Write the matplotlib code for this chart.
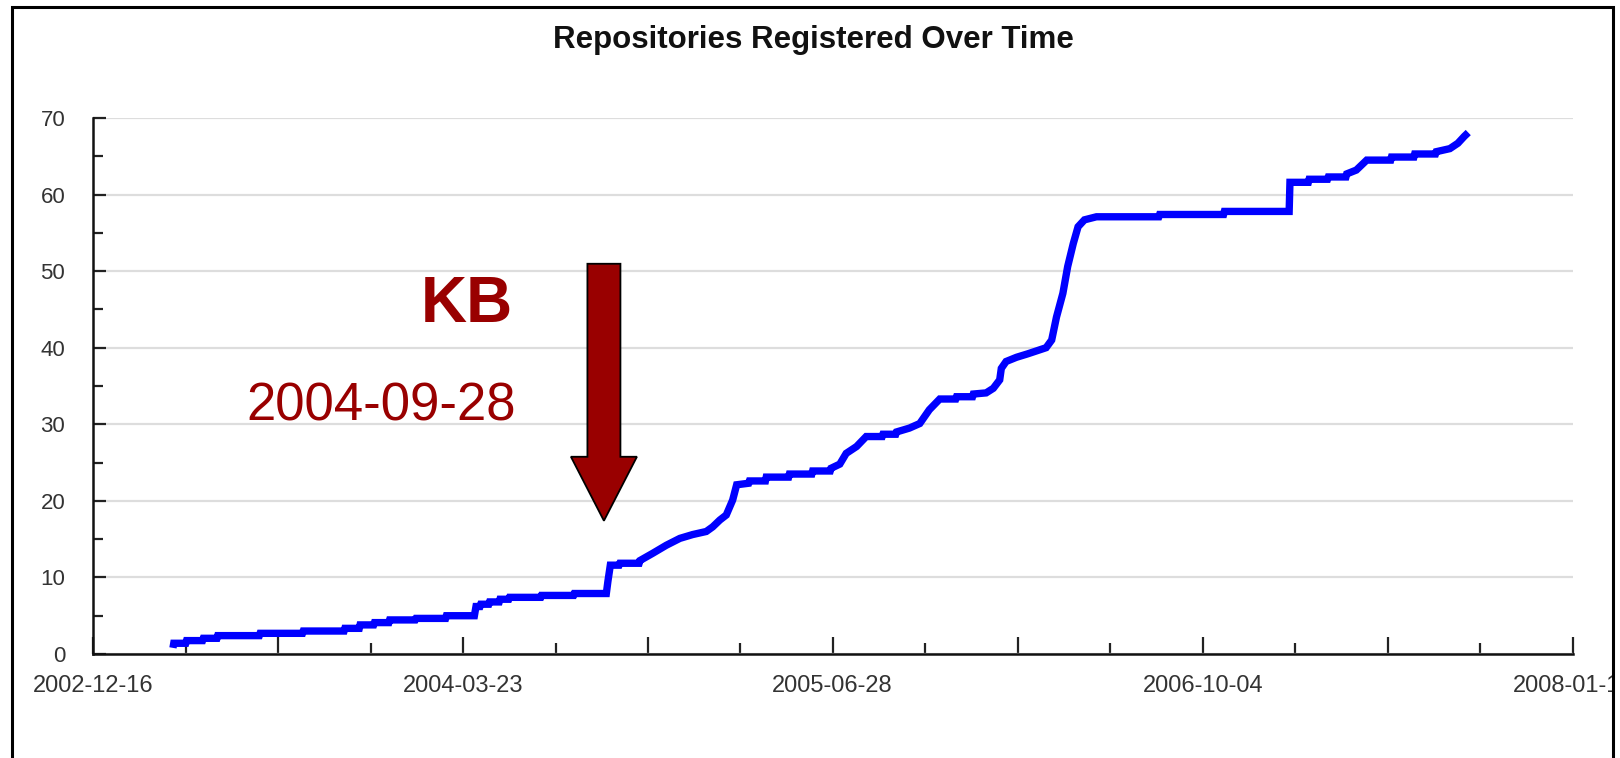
import numpy as np
import matplotlib
matplotlib.use("Agg")
import matplotlib.pyplot as plt
import matplotlib.dates as mdates
from matplotlib.patches import Rectangle, Polygon
from matplotlib.transforms import IdentityTransform

plt.rcParams['font.family'] = ['Liberation Sans', 'DejaVu Sans']

# ---------------- data ----------------
title = "Repositories Registered Over Time"

dates = [
    '2003-03-26', '2003-03-27', '2003-04-11', '2003-04-12', '2003-05-02',
    '2003-05-03', '2003-05-20', '2003-05-21', '2003-07-12', '2003-07-13',
    '2003-09-04', '2003-09-05', '2003-10-26', '2003-10-27', '2003-11-14',
    '2003-11-15', '2003-12-02', '2003-12-03', '2003-12-21', '2003-12-22',
    '2004-01-23', '2004-01-24', '2004-03-01', '2004-03-02', '2004-04-06',
    '2004-04-08', '2004-04-13', '2004-04-14', '2004-04-24', '2004-04-25',
    '2004-05-07', '2004-05-08', '2004-05-19', '2004-05-20', '2004-06-28',
    '2004-06-29', '2004-08-08', '2004-08-09', '2004-09-18', '2004-09-20',
    '2004-09-23', '2004-10-04', '2004-10-05', '2004-10-29', '2004-10-30',
    '2004-11-15', '2004-12-02', '2004-12-19', '2005-01-04', '2005-01-21',
    '2005-01-29', '2005-02-07', '2005-02-15', '2005-02-23', '2005-02-28',
    '2005-03-15', '2005-03-16', '2005-04-05', '2005-04-06', '2005-05-04',
    '2005-05-05', '2005-06-02', '2005-06-03', '2005-06-25', '2005-06-26',
    '2005-07-07', '2005-07-15', '2005-07-28', '2005-08-09', '2005-08-29',
    '2005-08-30', '2005-09-15', '2005-09-16', '2005-10-02', '2005-10-15',
    '2005-10-27', '2005-11-09', '2005-11-29', '2005-11-30', '2005-12-20',
    '2005-12-21', '2006-01-06', '2006-01-15', '2006-01-23', '2006-01-25',
    '2006-01-31', '2006-02-13', '2006-02-27', '2006-03-22', '2006-03-29',
    '2006-04-04', '2006-04-12', '2006-04-18', '2006-04-25', '2006-05-01',
    '2006-05-09', '2006-05-24', '2006-08-10', '2006-08-11', '2006-10-30',
    '2006-10-31', '2007-01-20', '2007-01-21', '2007-02-13', '2007-02-14',
    '2007-03-09', '2007-03-10', '2007-04-01', '2007-04-02', '2007-04-14',
    '2007-04-20', '2007-04-27', '2007-05-27', '2007-05-28', '2007-06-25',
    '2007-06-26', '2007-07-22', '2007-07-23', '2007-08-09', '2007-08-19',
    '2007-08-27', '2007-09-01',
]
repositories = [
    0.8, 1.4, 1.4, 1.75, 1.75,
    2.05, 2.05, 2.4, 2.4, 2.7,
    2.7, 3.0, 3.0, 3.35, 3.35,
    3.8, 3.8, 4.1, 4.1, 4.45,
    4.45, 4.65, 4.65, 5.0, 5.0,
    6.2, 6.2, 6.5, 6.5, 6.8,
    6.8, 7.15, 7.15, 7.4, 7.4,
    7.65, 7.65, 7.9, 7.9, 9.5,
    11.6, 11.6, 11.85, 11.85, 12.2,
    13.15, 14.2, 15.1, 15.6, 16.0,
    16.6, 17.5, 18.15, 20.1, 22.1,
    22.3, 22.6, 22.6, 23.1, 23.1,
    23.5, 23.5, 23.9, 23.9, 24.25,
    24.8, 26.2, 27.1, 28.4, 28.4,
    28.7, 28.7, 29.0, 29.5, 30.1,
    31.9, 33.3, 33.3, 33.6, 33.6,
    33.95, 34.1, 34.7, 35.8, 37.3,
    38.2, 38.75, 39.2, 40.0, 41.0,
    44.0, 47.1, 50.6, 53.6, 55.8,
    56.7, 57.1, 57.1, 57.4, 57.4,
    57.8, 57.8, 61.6, 61.6, 62.0,
    62.0, 62.3, 62.3, 62.7, 63.2,
    63.8, 64.5, 64.5, 64.9, 64.9,
    65.3, 65.3, 65.6, 66.0, 66.7,
    67.6, 68.1,
]

x_tick_labels = ['2002-12-16', '2004-03-23', '2005-06-28', '2006-10-04', '2008-01-10']
y_ticks = [0, 10, 20, 30, 40, 50, 60, 70]

kb_text = 'KB'
kb_date_text = '2004-09-28'
arrow_date = '2004-09-15'
arrow_tip_value = 17.4

# ---------------- figure ----------------
W, H = 1620, 758
fig = plt.figure(figsize=(W / 100, H / 100), dpi=100)
fig.patch.set_facecolor('white')

ax = fig.add_axes([93 / W, 1 - 654 / H, (1573 - 93) / W, (654 - 118) / H])

xd = mdates.date2num(np.array(dates, dtype='datetime64[D]'))
ax.plot(xd, repositories, color='#0000ff', lw=5.3,
        solid_joinstyle='miter', solid_capstyle='butt', zorder=3)

lab = mdates.date2num(np.array(x_tick_labels, dtype='datetime64[D]'))
major_pos, major_lab, minor_pos = [], [], []
for i in range(len(lab) - 1):
    step = (lab[i + 1] - lab[i]) / 4.0
    for k in range(4):
        p = lab[i] + k * step
        if k in (0, 2):
            major_pos.append(p)
            major_lab.append(x_tick_labels[i] if k == 0 else '')
        else:
            minor_pos.append(p)
major_pos.append(lab[-1])
major_lab.append(x_tick_labels[-1])

ax.set_xlim(lab[0], lab[-1])
ax.set_ylim(y_ticks[0], y_ticks[-1])

ax.set_xticks(major_pos)
ax.set_xticklabels(major_lab)
ax.set_xticks(minor_pos, minor=True)
ax.set_yticks(y_ticks)
ax.set_yticks([v + 5 for v in y_ticks[:-1]], minor=True)

tick_col = '#222222'
ax.tick_params(axis='x', which='major', direction='in', length=12, width=1.6,
               pad=15, labelsize=17, labelcolor='#333333', color=tick_col)
ax.tick_params(axis='x', which='minor', direction='in', length=8, width=1.6, color=tick_col)
ax.tick_params(axis='y', which='major', direction='in', length=9, width=1.6,
               pad=20, labelsize=16, labelcolor='#333333', color=tick_col)
ax.tick_params(axis='y', which='minor', direction='in', length=7, width=1.6, color=tick_col)

for s in ('top', 'right'):
    ax.spines[s].set_visible(False)
for s in ('left', 'bottom'):
    ax.spines[s].set_linewidth(1.8)
    ax.spines[s].set_color('#111111')

ax.yaxis.grid(True, which='major', color='#dddddd', lw=1.6)
ax.set_axisbelow(True)

fig.text(813 / W, 1 - 48 / H, title, ha='center', va='baseline',
         fontsize=22.5, fontweight='bold', color='#111111')

# annotations
red = '#990000'
fig.text(467 / W, 1 - 322 / H, kb_text, ha='center', va='baseline',
         fontsize=46, fontweight='bold', color=red)
fig.text(381 / W, 1 - 420 / H, kb_date_text, ha='center', va='baseline',
         fontsize=38, color=red)

fig.canvas.draw()
tx, ty = ax.transData.transform((mdates.date2num(np.datetime64(arrow_date)), arrow_tip_value))
sh, hh, hl, tl = 16.5, 33, 64, 257
pts = [(tx - sh, ty + hl), (tx - hh, ty + hl), (tx, ty), (tx + hh, ty + hl),
       (tx + sh, ty + hl), (tx + sh, ty + tl), (tx - sh, ty + tl)]
arrow = Polygon(pts, closed=True, facecolor=red, edgecolor='black', lw=1.3,
                transform=IdentityTransform(), zorder=5)
fig.add_artist(arrow)

# outer frame
fig.add_artist(Rectangle((1614 / W, 0), 1, 1, transform=fig.transFigure,
                         facecolor='white', edgecolor='none', zorder=9))
fig.add_artist(Rectangle((12 / W, -0.1), (1613 - 12) / W, 1.1 - 6.5 / H,
                         transform=fig.transFigure, fill=False,
                         edgecolor='black', lw=2.2, zorder=10))

fig.savefig('out.png', dpi=100)
